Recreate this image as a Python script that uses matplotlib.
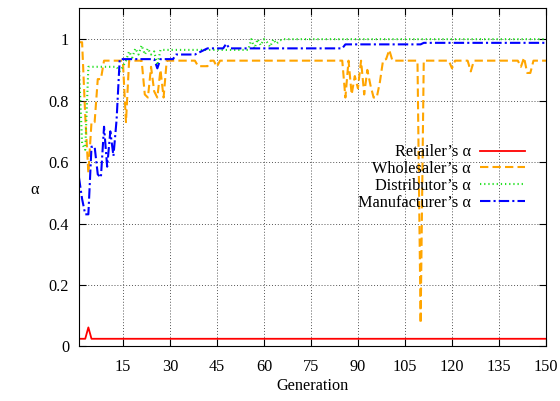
import matplotlib
matplotlib.use("Agg")
import matplotlib.pyplot as plt

# Data (generation, alpha); straight runs given by endpoints

retailer_gen = [1, 3, 4, 5, 150]
retailer_val = [0.025, 0.025, 0.062, 0.025, 0.025]

wholesaler_gen = [1, 2, 3, 4, 5, 6, 7, 8, 9, 15, 16, 17, 21, 22, 23, 24, 25, 26, 27, 28, 29,
                  38, 39, 42, 43, 44, 45, 46, 85, 86, 87, 88, 89, 90, 91, 92, 93, 94, 95, 96,
                  97, 98, 99, 100, 101, 109, 110, 111, 119, 120, 121, 125, 126, 127, 141,
                  142, 143, 144, 145, 146, 150]
wholesaler_val = [0.99, 0.99, 0.75, 0.565, 0.73, 0.73, 0.87, 0.87, 0.93, 0.93, 0.73, 0.93,
                  0.93, 0.82, 0.81, 0.91, 0.83, 0.81, 0.90, 0.81, 0.93,
                  0.93, 0.912, 0.912, 0.93, 0.93, 0.91, 0.93, 0.93, 0.81, 0.93, 0.82, 0.88,
                  0.84, 0.93, 0.82, 0.90, 0.85, 0.81, 0.81,
                  0.86, 0.93, 0.935, 0.965, 0.93, 0.93, 0.075, 0.93, 0.93, 0.905, 0.93,
                  0.93, 0.895, 0.93, 0.93,
                  0.91, 0.94, 0.89, 0.89, 0.93, 0.93]

distributor_gen = [1, 2, 3, 4, 13, 14, 15, 16, 17, 18, 19, 20, 21, 22, 23, 24, 25, 26, 27,
                   55, 56, 57, 58, 59, 60, 61, 62, 63, 64, 65, 66, 150]
distributor_val = [0.91, 0.66, 0.64, 0.91, 0.91, 0.895, 0.91, 0.93, 0.96, 0.94, 0.97, 0.95,
                   0.98, 0.95, 0.97, 0.95, 0.96, 0.915, 0.965,
                   0.965, 1.0, 0.97, 1.0, 0.98, 1.0, 0.99, 0.975, 1.0, 0.985, 0.995, 1.0, 1.0]

manufacturer_gen = [1, 2, 3, 4, 5, 6, 7, 8, 9, 10, 11, 12, 13, 14, 25, 26, 27, 31, 32, 38,
                    42, 47, 48, 49, 85, 86, 110, 111, 150]
manufacturer_val = [0.55, 0.48, 0.43, 0.43, 0.65, 0.65, 0.56, 0.55, 0.715, 0.585, 0.70,
                    0.62, 0.737, 0.935, 0.935, 0.905, 0.935, 0.935, 0.95, 0.95,
                    0.97, 0.97, 0.985, 0.97, 0.97, 0.983, 0.983, 0.988, 0.988]

x_ticks = [15, 30, 45, 60, 75, 90, 105, 120, 135, 150]
y_ticks = [0, 0.2, 0.4, 0.6, 0.8, 1]
y_tick_labels = ["0", "0.2", "0.4", "0.6", "0.8", "1"]

plt.rcParams["font.family"] = ["Liberation Serif", "DejaVu Serif"]
plt.rcParams["font.size"] = 11.7

fig = plt.figure(figsize=(5.6, 4.01), dpi=100)
ax = fig.add_axes([0.141, 0.136, 0.834, 0.843])

ax.plot(retailer_gen, retailer_val, color="red", lw=1.3,
        label="Retailer\u2019s \u03b1")
ax.plot(wholesaler_gen, wholesaler_val, color="orange", lw=1.5,
        dashes=(4, 2), label="Wholesaler\u2019s \u03b1")
ax.plot(distributor_gen, distributor_val, color="#22e022", lw=1.5,
        dashes=(0.6, 1.4), label="Distributor\u2019s \u03b1")
ax.plot(manufacturer_gen, manufacturer_val, color="blue", lw=1.5,
        dashes=(5, 1.5, 1, 1.5), label="Manufacturer\u2019s \u03b1")

ax.set_xlim(1, 150)
ax.set_ylim(0, 1.1)
ax.set_xticks(x_ticks)
ax.set_yticks(y_ticks)
ax.set_yticklabels(y_tick_labels)
ax.tick_params(direction="in", top=True, right=True, length=5, width=0.8)
ax.tick_params(axis="x", pad=9)
ax.tick_params(axis="y", pad=7)
ax.grid(True, color="#555555", linestyle=(0, (1, 2)), lw=0.7)

ax.set_xlabel("Generation", labelpad=2)
ax.set_ylabel("\u03b1", rotation=0)
ax.yaxis.set_label_coords(-0.095, 0.44)

ax.legend(loc="center right", bbox_to_anchor=(0.955, 0.50), frameon=False,
          markerfirst=False, handlelength=2.75, handletextpad=0.6,
          labelspacing=0.05, borderpad=0, borderaxespad=0)

fig.savefig("out.png", dpi=100)
